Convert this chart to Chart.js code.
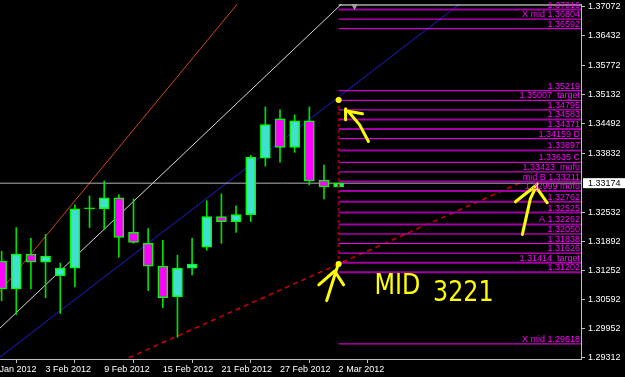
<!DOCTYPE html>
<html>
<head>
<meta charset="utf-8">
<script src="https://cdn.jsdelivr.net/npm/chart.js@4"></script>
<style>
  html, body { margin: 0; padding: 0; background: #000; overflow: hidden; }
  #wrap { position: relative; width: 625px; height: 377px; overflow: hidden; background: #000; }
  #chart { position: absolute; left: -20px; top: 0; }
</style>
</head>
<body>
<div id="wrap"><canvas id="chart" width="645" height="377"></canvas></div>
<script>
// daily bars, index 23 = 2 Mar 2012
const opens  = [1.31450, 1.30837, 1.31603, 1.31428, 1.31121, 1.31296, 1.32604, 1.32609, 1.32850, 1.32084, 1.31843, 1.31340, 1.30662, 1.31296, 1.31756, 1.32434, 1.32325, 1.32478, 1.33725, 1.34600, 1.33965, 1.34556, 1.33244, 1.33090];
const highs  = [1.31668, 1.32193, 1.31953, 1.32040, 1.31406, 1.32697, 1.32893, 1.33222, 1.32915, 1.32828, 1.32172, 1.31909, 1.31581, 1.31953, 1.32784, 1.32937, 1.32675, 1.33790, 1.34862, 1.34797, 1.34687, 1.34862, 1.33572, 1.33174];
const lows   = [1.30574, 1.30268, 1.30837, 1.30640, 1.30290, 1.30881, 1.32193, 1.32150, 1.31537, 1.31843, 1.30793, 1.30421, 1.29765, 1.31143, 1.31690, 1.31843, 1.32084, 1.32325, 1.33550, 1.33637, 1.33856, 1.33134, 1.32828, 1.33090];
const closes = [1.30837, 1.31603, 1.31428, 1.31559, 1.31296, 1.32609, 1.32604, 1.32850, 1.31975, 1.31865, 1.31340, 1.30640, 1.31296, 1.31384, 1.32434, 1.32325, 1.32478, 1.33747, 1.34469, 1.33965, 1.34556, 1.33222, 1.33090, 1.33174];

const dateTicks  = [-1, 3, 7, 11, 15, 19, 23];
const dateLabels = ['28 Jan 2012', '3 Feb 2012', '9 Feb 2012', '15 Feb 2012', '21 Feb 2012', '27 Feb 2012', '2 Mar 2012'];
const priceTicks = [1.37072, 1.36432, 1.35772, 1.35132, 1.34492, 1.33832, 1.32532, 1.31892, 1.31252, 1.30592, 1.29952, 1.29312];
const lastPrice = 1.33174;

const levelPrices = [1.37016, 1.36804, 1.36592, 1.35219, 1.35007, 1.34795, 1.34583, 1.34371, 1.34159, 1.33897, 1.33635, 1.33423, 1.33211, 1.32999, 1.32762, 1.32525, 1.32262, 1.32050, 1.31838, 1.31626, 1.31414, 1.31202, 1.29618];
const levelTexts  = ['1.37016', 'X mid 1.36804', '1.36592', '1.35219', '1.35007  target', '1.34795', '1.34583', '1.34371', '1.34159 D', '1.33897', '1.33635 C', '1.33423  mofu', 'mid B 1.33211', '1.32999 mofu', '1.32762', '1.32525', 'A 1.32262', '1.32050', '1.31838', '1.31626', '1.31414  target', '1.31202', 'X mid 1.29618'];
const topLine = 1.37116;

// trend lines as [bar index, price] pairs
const orangeLine  = [[-2, 1.30036], [18, 1.37889]];
const whiteLine   = [[-2, 1.29387], [25, 1.37692]];
const blueLine    = [[-2, 1.28857], [35, 1.38068]];
const redDashLine = [[7, 1.29068], [35.407, 1.33184]];
const targetDots  = [[23, 1.35016], [23, 1.31384]];
const marker      = [[24.085, 1.37094]];

// hand drawn notes
const arrows = [
  [[23.475, 1.34819], [23.475, 1.34578]],
  [[23.475, 1.34775], [24.627, 1.34709]],
  [[23.678, 1.34753], [24.424, 1.34469], [25.034, 1.34097]],
  [[22.932, 1.31340], [22.186, 1.30575]],
  [[21.644, 1.30925], [22.729, 1.31231], [23.339, 1.30925]],
  [[35.542, 1.32040], [36.085, 1.32828], [36.559, 1.33156]],
  [[35.068, 1.32762], [36.424, 1.33112], [37.237, 1.32740]]
];
const noteWords = ['MID', '3221'];
const notePos   = [[25.441, 1.30728], [29.441, 1.30574]];

const xMin = -1.203, xMax = 39.542;
const yMin = 1.29284, yMax = 1.37138;
const thickLevels = [1.37016, 1.34583, 1.34371, 1.33897, 1.33211, 1.32999, 1.32762, 1.32525, 1.32262, 1.31414, 1.31202];

const pts = arr => arr.map(([x, y]) => ({ x, y }));
const idx = opens.map((_, i) => i);
const bodyColors = idx.map(i => closes[i] > opens[i] ? '#40e0d0' : (closes[i] < opens[i] ? '#ff00ff' : '#00ff00'));

function lineSet(data, color, width, order, extra) {
  return Object.assign({
    type: 'line', data: pts(data), borderColor: color, borderWidth: width,
    pointRadius: 0, fill: false, tension: 0, order: order
  }, extra || {});
}

const datasets = [
  { type: 'bar', data: idx.map(i => ({ x: i, y: [opens[i], closes[i]] })),
    backgroundColor: bodyColors, borderColor: '#00ff00', borderWidth: 1.5, borderSkipped: false,
    barThickness: 10, minBarLength: 1, grouped: false, order: 0 },
  { type: 'bar', data: idx.map(i => ({ x: i, y: [lows[i], highs[i]] })),
    backgroundColor: '#00e000', barThickness: 1, grouped: false, order: 1 },
  lineSet([[xMin, lastPrice], [xMax, lastPrice]], '#b4b4b4', 1, 6),
  lineSet(orangeLine, '#d2451e', 1, 7),
  lineSet(whiteLine, '#d8d8d8', 1, 7),
  lineSet(blueLine, '#1e1ed2', 1, 7),
  lineSet(redDashLine, '#d00000', 1.5, 7, { borderDash: [5, 4] }),
  lineSet([[23, topLine], [xMax, topLine]], '#ffffff', 1, 5),
  lineSet(targetDots, '#9a0000', 2, -1, { borderDash: [3, 3] }),
  lineSet(targetDots, '#ffff00', 0, -2, { showLine: false, pointRadius: 3, pointBackgroundColor: '#ffff00', pointBorderWidth: 0 }),
  lineSet(marker, '#a0a0a0', 0, -2, { showLine: false, pointStyle: 'triangle', rotation: 180, pointRadius: 4, pointBackgroundColor: '#a0a0a0', pointBorderWidth: 0 })
];
levelPrices.forEach(p => {
  const thick = thickLevels.includes(p);
  datasets.push(lineSet([[23, p], [xMax, p]], thick ? '#a000a0' : '#ff00ff', thick ? 2 : 1, 5));
});
arrows.forEach(a => {
  datasets.push(lineSet(a, '#ffff00', 3, -3, { borderCapStyle: 'round', borderJoinStyle: 'round' }));
});

const overlay = {
  id: 'overlay',
  afterDatasetsDraw(chart) {
    const { ctx, chartArea, scales: { x, y } } = chart;
    ctx.save();
    ctx.font = '9px "Liberation Sans"';
    ctx.fillStyle = '#ff00ff';
    ctx.textAlign = 'right';
    ctx.textBaseline = 'alphabetic';
    levelPrices.forEach((p, k) => {
      ctx.fillText(levelTexts[k], chartArea.right - 1, y.getPixelForValue(p) - 2);
    });

    // handwritten note, squeezed a bit
    ctx.fillStyle = '#ffff00';
    ctx.font = '28px "DejaVu Sans"';
    ctx.textAlign = 'left';
    noteWords.forEach((w, k) => {
      ctx.save();
      ctx.translate(x.getPixelForValue(notePos[k][0]), y.getPixelForValue(notePos[k][1]));
      ctx.scale(0.85, 1);
      ctx.fillText(w, 0, 0);
      ctx.restore();
    });

    // current price tag
    const py = y.getPixelForValue(lastPrice);
    ctx.fillStyle = '#ffffff';
    ctx.fillRect(chartArea.right + 2, py - 5, chart.width - chartArea.right - 2, 10);
    ctx.fillStyle = '#000000';
    ctx.font = '9px "Liberation Sans"';
    ctx.textBaseline = 'middle';
    ctx.fillText(lastPrice.toFixed(5), chartArea.right + 7, py + 0.5);
    ctx.restore();
  }
};

new Chart(document.getElementById('chart'), {
  type: 'bar',
  data: { datasets },
  options: {
    responsive: false,
    animation: false,
    devicePixelRatio: 1,
    layout: { padding: 0 },
    plugins: { legend: { display: false }, tooltip: { enabled: false } },
    scales: {
      x: {
        type: 'linear', min: xMin, max: xMax, offset: false,
        afterBuildTicks: s => { s.ticks = dateTicks.map(v => ({ value: v })); },
        afterFit: s => { s.height = 18; s.paddingLeft = 0; s.paddingRight = 0; },
        ticks: {
          color: '#ffffff', font: { family: 'Liberation Sans', size: 9 },
          align: 'start', padding: 1, autoSkip: false, maxRotation: 0,
          callback: (v, i) => dateLabels[i]
        },
        grid: { drawOnChartArea: false, tickLength: 4, color: '#c0c0c0' },
        border: { color: '#c0c0c0' }
      },
      y: {
        type: 'linear', position: 'right', min: yMin, max: yMax,
        afterBuildTicks: s => { s.ticks = priceTicks.map(v => ({ value: v })); },
        afterFit: s => { s.width = 44; s.paddingTop = 0; s.paddingBottom = 0; },
        ticks: {
          color: '#ffffff', font: { family: 'Liberation Sans', size: 9 },
          padding: 3, autoSkip: false, callback: v => v.toFixed(5)
        },
        grid: { drawOnChartArea: false, tickLength: 4, color: '#c0c0c0' },
        border: { color: '#c0c0c0' }
      }
    }
  },
  plugins: [overlay]
});
</script>
</body>
</html>
